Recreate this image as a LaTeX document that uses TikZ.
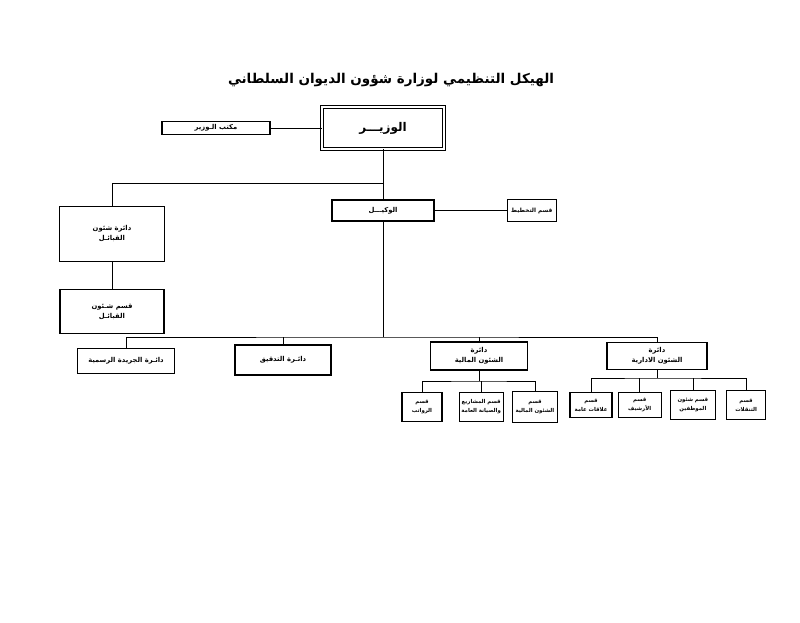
\documentclass[tikz,border=0pt]{standalone}
\usepackage{fontspec}
\usetikzlibrary{positioning}
\newfontfamily\arabicfont[Script=Arabic]{DejaVu Sans}
\TeXXeTstate=1
\newcommand{\ar}[1]{\beginR #1\endR}

\begin{document}
\begin{tikzpicture}[x=1pt,y=-1pt,
  box/.style={draw,line width=1.2pt,inner sep=1pt,align=center,font=\arabicfont\bfseries\fontsize{6.8}{10}\selectfont},
  sub/.style={box,font=\arabicfont\bfseries\fontsize{5.4}{9}\selectfont},
  link/.style={line width=0.8pt}]
  \useasboundingbox[fill=white] (0,0) rectangle (800,623);
  \node[font=\arabicfont\bfseries\fontsize{13.5}{15}\selectfont] (title) at (391,80) {\ar{الهيكل التنظيمي لوزارة شؤون الديوان السلطاني}};

  \node[box,double,double distance=2.2pt,line width=0.9pt,minimum width=122pt,minimum height=42pt,
    font=\arabicfont\bfseries\fontsize{12}{14}\selectfont] (min) at (383,128) {\ar{الوزيـــر}};
  \node[box,minimum width=108pt,minimum height=13pt,left=51pt of min] (off) {\ar{مكتب الـوزير}};
  \node[box,minimum width=102pt,minimum height=21pt,below=50pt of min] (dep) {\ar{الوكيـــل}};
  \node[box,minimum width=49pt,minimum height=22pt,right=72pt of dep,
    font=\arabicfont\bfseries\fontsize{5.8}{9}\selectfont] (plan) {\ar{قسم التخطيط}};
  \node[box,minimum width=105pt,minimum height=55pt] (trb) at (112,234) {\ar{دائرة شئون}\\\ar{القبائـل}};
  \node[box,minimum width=104pt,minimum height=44pt,below=27pt of trb] (trbs) {\ar{قسم شـئون}\\\ar{القبائـل}};

  \node[box,minimum width=97pt,minimum height=25pt] (jrn) at (126,361) {\ar{دائـرة الجريدة الرسمية}};
  \node[box,minimum width=96pt,minimum height=30pt] (aud) at (283,360) {\ar{دائـرة التدقيق}};
  \node[box,minimum width=97pt,minimum height=28pt] (fin) at (479,356) {\ar{دائرة}\\\ar{الشئون المالية}};
  \node[box,minimum width=100pt,minimum height=27pt] (adm) at (657,356) {\ar{دائرة}\\\ar{الشئون الادارية}};

  \node[sub,minimum width=40pt,minimum height=29pt] (sal) at (422,407) {\ar{قسم}\\\ar{الرواتب}};
  \node[sub,minimum width=44pt,minimum height=29pt,right=16pt of sal] (proj) {\ar{قسم المشاريع}\\\ar{والصيانة العامة}};
  \node[sub,minimum width=45pt,minimum height=31pt,right=8pt of proj] (fins) {\ar{قسم}\\\ar{الشئون المالية}};

  \node[sub,minimum width=42pt,minimum height=25pt] (rel) at (591,405) {\ar{قسم}\\\ar{علاقات عامة}};
  \node[sub,minimum width=43pt,minimum height=25pt,right=5pt of rel] (arc) {\ar{قسم}\\\ar{الأرشيف}};
  \node[sub,minimum width=45pt,minimum height=29pt,right=8pt of arc] (emp) {\ar{قسم شئون}\\\ar{الموظفين}};
  \node[sub,minimum width=39pt,minimum height=29pt,right=10pt of emp] (trn) {\ar{قسم}\\\ar{التنقلات}};

  \coordinate (t1) at (383,183);
  \coordinate (b1) at (383,337);
  \coordinate (fb) at (479,381);
  \coordinate (ab) at (657,378);

  \draw[link] (off) -- (min);
  \draw[link] (min) -- (dep);
  \draw[link] (dep) -- (plan);
  \draw[link] (trb.north) |- (t1);
  \draw[link] (trb) -- (trbs);
  \draw[link] (dep) -- (b1);
  \draw[link] (jrn.north) |- (b1) -| (adm.north);
  \draw[link] (aud.north) -- (aud.north |- b1);
  \draw[link] (fin.north) -- (fin.north |- b1);
  \draw[link] (fin) -- (fb);
  \draw[link] (sal.north) |- (fb) -| (fins.north);
  \draw[link] (proj.north) -- (proj.north |- fb);
  \draw[link] (adm) -- (ab);
  \draw[link] (rel.north) |- (ab) -| (trn.north);
  \draw[link] (arc.north) -- (arc.north |- ab);
  \draw[link] (emp.north) -- (emp.north |- ab);
\end{tikzpicture}
\end{document}
